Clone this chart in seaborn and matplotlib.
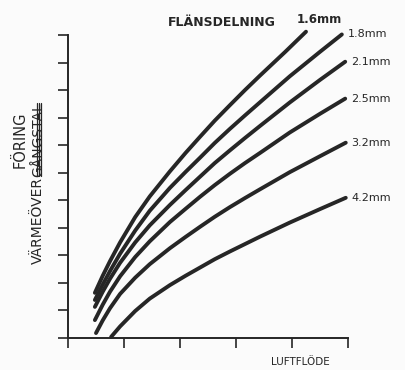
import matplotlib
matplotlib.use("Agg")
import matplotlib.pyplot as plt
import seaborn as sns
import pandas as pd
from matplotlib.lines import Line2D

# ---- data (arbitrary units, axes unlabeled) ----
series_labels = ["1.6mm", "1.8mm", "2.1mm", "2.5mm", "3.2mm", "4.2mm"]

x_16 = [0.48, 0.62, 0.75, 0.93, 1.20, 1.46, 1.82, 2.10, 2.36, 2.62, 2.89, 3.16, 3.43, 3.88, 4.25]
y_16 = [1.64, 2.26, 2.79, 3.47, 4.39, 5.14, 6.05, 6.72, 7.31, 7.89, 8.45, 9.00, 9.53, 10.39, 11.12]

x_18 = [0.48, 0.62, 0.75, 0.93, 1.20, 1.46, 1.82, 2.10, 2.36, 2.62, 2.89, 3.16, 3.43, 3.96, 4.50, 4.89]
y_18 = [1.38, 1.94, 2.43, 3.06, 3.90, 4.62, 5.45, 6.03, 6.55, 7.08, 7.59, 8.08, 8.56, 9.50, 10.39, 11.02]

x_21 = [0.48, 0.62, 0.75, 0.93, 1.20, 1.46, 1.82, 2.10, 2.36, 2.62, 2.89, 3.16, 3.43, 3.96, 4.50, 4.95]
y_21 = [1.13, 1.68, 2.15, 2.73, 3.47, 4.09, 4.83, 5.37, 5.86, 6.35, 6.81, 7.26, 7.70, 8.55, 9.37, 10.03]

x_25 = [0.48, 0.62, 0.75, 0.93, 1.20, 1.46, 1.82, 2.10, 2.36, 2.62, 2.89, 3.16, 3.43, 3.96, 4.50, 4.95]
y_25 = [0.65, 1.21, 1.68, 2.24, 2.94, 3.51, 4.21, 4.69, 5.13, 5.55, 5.96, 6.35, 6.72, 7.46, 8.14, 8.69]

x_32 = [0.50, 0.62, 0.75, 0.93, 1.20, 1.46, 1.82, 2.10, 2.36, 2.62, 2.89, 3.16, 3.43, 3.96, 4.50, 4.96]
y_32 = [0.18, 0.64, 1.08, 1.60, 2.19, 2.68, 3.26, 3.67, 4.04, 4.40, 4.75, 5.08, 5.40, 6.02, 6.60, 7.09]

x_42 = [0.77, 0.93, 1.20, 1.46, 1.82, 2.10, 2.36, 2.62, 2.89, 3.16, 3.43, 3.96, 4.50, 4.96]
y_42 = [0.04, 0.42, 0.98, 1.43, 1.92, 2.26, 2.56, 2.86, 3.14, 3.41, 3.68, 4.19, 4.68, 5.09]

x_ticks = [0, 1, 2, 3, 4, 5]
y_ticks = [0, 1, 2, 3, 4, 5, 6, 7, 8, 9, 10, 11]

title_text = "FLÄNSDELNING"
xlabel_text = "LUFTFLÖDE"
ylabel_kept = "VÄRMEÖVER"
ylabel_struck = "GÅNGSTAL"
ylabel_fix = "FÖRING"

xs = [x_16, x_18, x_21, x_25, x_32, x_42]
ys = [y_16, y_18, y_21, y_25, y_32, y_42]

rows = []
for lab, xv, yv in zip(series_labels, xs, ys):
    for a, b in zip(xv, yv):
        rows.append({"series": lab, "x": a, "y": b})
df = pd.DataFrame(rows)

# ---- style ----
bg = "#fbfbfb"
ink = "#262626"

sns.set_theme(style="white")
plt.rcParams["font.family"] = ["DejaVu Sans"]

fig = plt.figure(figsize=(4.05, 3.7), dpi=100, facecolor=bg)
ax = fig.add_axes([68 / 405, 1 - 338 / 370, 280 / 405, 303 / 370])
ax.set_facecolor(bg)

sns.lineplot(data=df, x="x", y="y", hue="series", hue_order=series_labels,
             palette=[ink] * len(series_labels), sort=False, estimator=None,
             units="series", linewidth=2.8, legend=False, ax=ax)
for ln in ax.lines:
    ln.set_clip_on(False)
    ln.set_solid_capstyle("round")
    ln.set_solid_joinstyle("round")

ax.set_xlim(0, 5)
ax.set_ylim(0, 11)
ax.set_xticks(x_ticks)
ax.set_yticks(y_ticks)
ax.set_xticklabels([])
ax.set_yticklabels([])
ax.set_xlabel("")
ax.set_ylabel("")
ax.tick_params(direction="out", length=7.2, width=1.2, colors=ink,
               left=True, bottom=True)
sns.despine(ax=ax)
for s in ("left", "bottom"):
    ax.spines[s].set_linewidth(1.4)
    ax.spines[s].set_color(ink)

# curve end labels
for lab, xv, yv in zip(series_labels, xs, ys):
    if lab == "1.6mm":
        ax.annotate(lab, xy=(xv[-1], yv[-1]), xytext=(-7, 9),
                    textcoords="offset points", ha="left", va="center",
                    fontsize=8.5, fontweight="bold", color=ink,
                    annotation_clip=False)
    else:
        ax.annotate(lab, xy=(xv[-1], yv[-1]), xytext=(4, 0),
                    textcoords="offset points", ha="left", va="center",
                    fontsize=8, color=ink, annotation_clip=False)

fig.text(168 / 405, 1 - 23 / 370, title_text, ha="left", va="center",
         fontsize=9, fontweight="bold", color=ink)
fig.text(300 / 405, 1 - 362 / 370, xlabel_text, ha="center", va="center",
         fontsize=7.5, color=ink)

# y label: "VÄRMEÖVER" + struck "GÅNGSTAL", with "FÖRING" written beside
t1 = fig.text(38 / 405, 1 - 264 / 370, ylabel_kept, rotation=90,
              ha="center", va="bottom", fontsize=10, color=ink)
fig.canvas.draw()
r = fig.canvas.get_renderer()
bb1 = t1.get_window_extent(r).transformed(fig.transFigure.inverted())
t2 = fig.text(38 / 405, bb1.y1, ylabel_struck, rotation=90,
              ha="center", va="bottom", fontsize=10, color=ink)
fig.canvas.draw()
bb2 = t2.get_window_extent(r).transformed(fig.transFigure.inverted())
for dx in (-1.5, 0.5, 2.5):
    xx = 38 / 405 + dx / 405
    fig.add_artist(Line2D([xx, xx], [bb2.y0 + 0.003, bb2.y1 - 0.003],
                          transform=fig.transFigure, color=ink, lw=0.9))
fig.text(20 / 405, (bb2.y0 + bb2.y1) / 2, ylabel_fix, rotation=90,
         ha="center", va="center", fontsize=10.5, color=ink)

fig.savefig("out.png", dpi=100, facecolor=bg)
